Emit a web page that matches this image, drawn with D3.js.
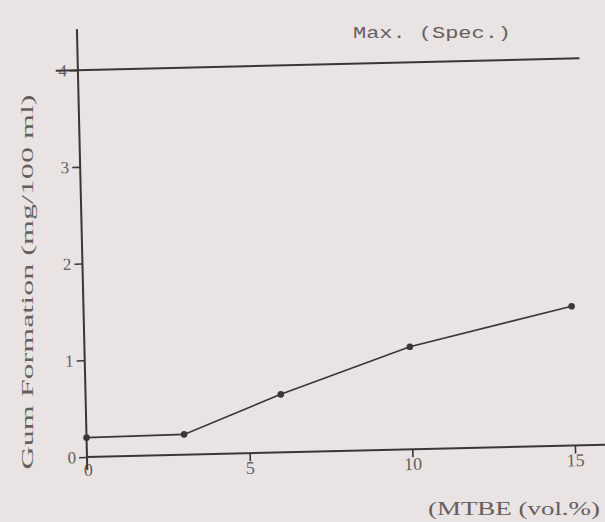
<!DOCTYPE html>
<html>
<head>
<meta charset="utf-8">
<script src="https://cdn.jsdelivr.net/npm/d3@7"></script>
<style>
  body { margin: 0; background: #e9e3e3; }
  svg { display: block; }
</style>
</head>
<body>
<svg width="605" height="522"></svg>
<script>
const mtbe = [0, 3, 6, 10, 15];
const gum = [0.2, 0.21, 0.6, 1.06, 1.44];
const xTicks = [0, 5, 10, 15];
const yTicks = [0, 1, 2, 3, 4];
const specMax = 4;

const svg = d3.select("svg");
const width = +svg.attr("width");
const height = +svg.attr("height");
const ink = "#3b3636";
const textInk = "#655e5e";

svg.append("rect")
  .attr("width", width)
  .attr("height", height)
  .attr("fill", "#e9e3e3");

// the scan is a little tilted, so the plot is drawn in a rotated group
const g = svg.append("g")
  .attr("transform", "translate(87,457) rotate(-1.35)");

const x = d3.scaleLinear().domain([0, 15]).range([0, 488]);
const y = d3.scaleLinear().domain([0, 4]).range([0, -387]);

// x axis
const xAxis = g.append("g")
  .call(d3.axisBottom(x).tickValues(xTicks.slice(1)).tickSize(8).tickPadding(0).tickSizeOuter(0));
xAxis.select(".domain").remove();
xAxis.selectAll(".tick line").attr("stroke", ink).attr("stroke-width", 1.6);
xAxis.selectAll(".tick text")
  .attr("fill", textInk)
  .attr("font-family", "Liberation Serif, serif")
  .attr("font-size", 18);
g.append("text")
  .attr("x", x(0) + 1)
  .attr("y", 19)
  .attr("text-anchor", "middle")
  .attr("fill", textInk)
  .attr("font-family", "Liberation Serif, serif")
  .attr("font-size", 18)
  .text(xTicks[0]);
g.append("line")
  .attr("x1", x(0))
  .attr("x2", 540)
  .attr("y1", y(0))
  .attr("y2", y(0))
  .attr("stroke", ink)
  .attr("stroke-width", 2);

// y axis
const yAxis = g.append("g")
  .call(d3.axisLeft(y).tickValues(yTicks).tickFormat(d3.format("d")).tickSize(8).tickPadding(3).tickSizeOuter(0));
yAxis.select(".domain").remove();
yAxis.selectAll(".tick line").attr("stroke", ink).attr("stroke-width", 1.6);
yAxis.selectAll(".tick text")
  .attr("fill", textInk)
  .attr("font-family", "Liberation Serif, serif")
  .attr("font-size", 17);
g.append("line")
  .attr("x1", 0)
  .attr("x2", 0)
  .attr("y1", 13)
  .attr("y2", -428)
  .attr("stroke", ink)
  .attr("stroke-width", 2);

// spec limit
g.append("line")
  .attr("x1", x(-0.68))
  .attr("x2", x(15.42))
  .attr("y1", y(specMax))
  .attr("y2", y(specMax))
  .attr("stroke", ink)
  .attr("stroke-width", 2);

// data
const pts = mtbe.map((d, i) => [d, gum[i]]);
g.append("path")
  .datum(pts)
  .attr("fill", "none")
  .attr("stroke", ink)
  .attr("stroke-width", 1.6)
  .attr("d", d3.line().x(d => x(d[0])).y(d => y(d[1])));
g.selectAll(".pt")
  .data(pts)
  .enter()
  .append("circle")
  .attr("class", "pt")
  .attr("cx", d => x(d[0]))
  .attr("cy", d => y(d[1]))
  .attr("r", 3.3)
  .attr("fill", ink);

// labels
svg.append("text")
  .attr("x", 432)
  .attr("y", 38)
  .attr("text-anchor", "middle")
  .attr("fill", textInk)
  .attr("font-family", "Liberation Mono, monospace")
  .attr("font-size", 16)
  .attr("textLength", 158)
  .attr("lengthAdjust", "spacingAndGlyphs")
  .text("Max. (Spec.)");

svg.append("text")
  .attr("x", 514)
  .attr("y", 515)
  .attr("text-anchor", "middle")
  .attr("fill", textInk)
  .attr("font-family", "Liberation Serif, serif")
  .attr("font-size", 18)
  .attr("textLength", 172)
  .attr("lengthAdjust", "spacingAndGlyphs")
  .text("(MTBE (vol.%)");

svg.append("text")
  .attr("transform", "translate(33,282) rotate(-90)")
  .attr("text-anchor", "middle")
  .attr("fill", textInk)
  .attr("font-family", "Liberation Serif, serif")
  .attr("font-size", 16)
  .attr("textLength", 375)
  .attr("lengthAdjust", "spacingAndGlyphs")
  .text("Gum Formation (mg/100 ml)");
</script>
</body>
</html>
